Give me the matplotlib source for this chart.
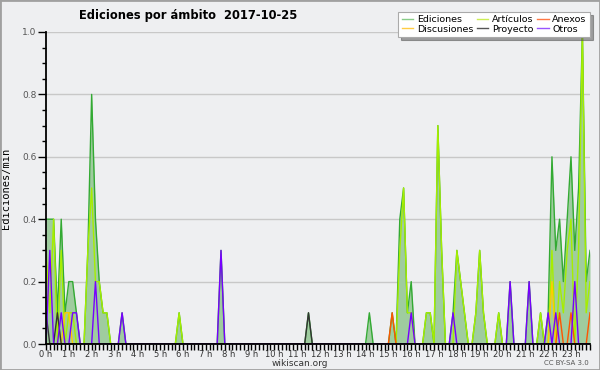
import numpy as np
import matplotlib
matplotlib.use('Agg')
import matplotlib.pyplot as plt
from matplotlib.lines import Line2D
from matplotlib.patches import Rectangle
from matplotlib.ticker import MultipleLocator

# 10-minute bins (0..143), edits per minute; only non-zero bins listed
n_bins = 144
ediciones = {0: 0.4, 1: 0.4, 2: 0.4, 3: 0.1, 4: 0.4, 5: 0.1, 6: 0.2, 7: 0.2, 8: 0.1,
             11: 0.3, 12: 0.8, 13: 0.4, 14: 0.2, 15: 0.1, 16: 0.1,
             20: 0.1, 35: 0.1, 46: 0.3, 69: 0.1, 85: 0.1, 91: 0.1,
             93: 0.4, 94: 0.5, 95: 0.1, 96: 0.2,
             100: 0.1, 101: 0.1, 103: 0.7, 104: 0.3,
             107: 0.1, 108: 0.3, 109: 0.2, 110: 0.1,
             113: 0.1, 114: 0.3, 115: 0.1,
             119: 0.1, 122: 0.2, 127: 0.2,
             130: 0.1, 132: 0.1, 133: 0.6, 134: 0.3, 135: 0.4, 136: 0.2, 137: 0.4,
             138: 0.6, 139: 0.3, 140: 0.5, 141: 1.0, 142: 0.2, 143: 0.3}
articulos = {0: 0.3, 1: 0.1, 2: 0.4, 4: 0.3, 6: 0.1, 7: 0.1,
             11: 0.3, 12: 0.5, 13: 0.2, 14: 0.2, 15: 0.1, 16: 0.1, 35: 0.1,
             93: 0.3, 94: 0.5, 95: 0.1, 96: 0.1, 100: 0.1, 101: 0.1, 103: 0.7, 104: 0.3,
             108: 0.3, 109: 0.2, 110: 0.1, 113: 0.1, 114: 0.3, 115: 0.1, 119: 0.1,
             130: 0.1, 133: 0.3, 135: 0.2, 136: 0.1, 137: 0.3, 138: 0.4,
             140: 0.3, 141: 1.0, 142: 0.1, 143: 0.2}
anexos = {91: 0.1, 135: 0.1, 138: 0.1, 143: 0.1}
discusiones = {5: 0.1, 6: 0.1, 133: 0.2}
proyecto = {0: 0.1, 3: 0.1, 69: 0.1}
otros = {1: 0.3, 4: 0.1, 7: 0.1, 8: 0.1, 13: 0.2, 20: 0.1, 46: 0.3, 96: 0.1,
         107: 0.1, 122: 0.2, 127: 0.2, 132: 0.1, 134: 0.1, 139: 0.2}
hour_labels = ['%d h' % h for h in range(24)]


def series(d):
    v = np.zeros(n_bins)
    for k, val in d.items():
        v[k] = val
    return v


bg = '#eeeff1'
x = np.arange(n_bins)

fig = plt.figure(figsize=(6, 3.7), dpi=100, facecolor=bg)
ax = fig.add_axes([46 / 600, 1 - 344 / 370, 544 / 600, 312 / 370])
ax.set_facecolor(bg)

ed = series(ediciones)
ax.fill_between(x, 0, ed, color='#9fcc9f', lw=0, zorder=1)
ax.plot(x, ed, color='#33aa33', lw=1.0, zorder=2)
ax.plot(x, series(articulos), color='#a6ee00', lw=1.0, zorder=3)
ax.plot(x, series(discusiones), color='#ffcc00', lw=1.0, zorder=3)
ax.plot(x, series(anexos), color='#ff5500', lw=1.0, zorder=4)
ax.plot(x, series(proyecto), color='#333333', lw=1.0, zorder=4)
ax.plot(x, series(otros), color='#7700ff', lw=1.0, zorder=4)

ax.set_xlim(0, n_bins - 1)
ax.set_ylim(0, 1.0)
for s in ['top', 'right']:
    ax.spines[s].set_visible(False)
for s in ['left', 'bottom']:
    ax.spines[s].set_linewidth(1.3)
    ax.spines[s].set_zorder(6)

ax.yaxis.set_major_locator(MultipleLocator(0.2))
ax.yaxis.set_minor_locator(MultipleLocator(0.05))
ax.yaxis.set_major_formatter(plt.FormatStrFormatter('%.1f'))
ax.set_xticks(np.arange(0, n_bins, 6))
ax.set_xticklabels(hour_labels)
ax.set_xticks(np.arange(0, n_bins), minor=True)
ax.tick_params(axis='y', which='major', length=6, width=1, labelsize=6.5,
               labelcolor='#555555', pad=1)
ax.tick_params(axis='y', which='minor', length=3, width=1)
ax.tick_params(axis='x', which='both', length=4, width=1, labelsize=6,
               labelcolor='#333333', pad=0)
ax.grid(axis='y', which='major', color='#c8c8c8', lw=1)
ax.set_axisbelow(True)

fig.text(300 / 600, 1 - 363 / 370, 'wikiscan.org', ha='center', va='center',
         fontsize=6.5, color='#333333')
ax.set_ylabel('Ediciones/min', fontsize=7.5, family='DejaVu Sans Mono', labelpad=8)
fig.text(188 / 600, 1 - 15 / 370, 'Ediciones por ámbito  2017-10-25', ha='center',
         va='center', fontsize=8.3, fontweight='bold')
fig.text(589 / 600, 1 - 363 / 370, 'CC BY-SA 3.0', ha='right', va='center',
         fontsize=5, color='#555555')

handles = [Line2D([], [], color='#88cc88', lw=1),
           Line2D([], [], color='#ffcc44', lw=1),
           Line2D([], [], color='#ccee55', lw=1),
           Line2D([], [], color='#555555', lw=1),
           Line2D([], [], color='#ff7744', lw=1),
           Line2D([], [], color='#9955ff', lw=1)]
labels = ['Ediciones', 'Discusiones', 'Artículos', 'Proyecto', 'Anexos', 'Otros']
leg = fig.legend(handles, labels, ncol=3, loc='upper right',
                 bbox_to_anchor=(590 / 600, 1 - 12 / 370), fontsize=6.8,
                 frameon=True, fancybox=False, shadow=True, framealpha=1,
                 borderpad=0.35, labelspacing=0.05, handlelength=1.2,
                 handletextpad=0.4, columnspacing=0.4, borderaxespad=0)
leg.get_frame().set_edgecolor('#aaaaaa')
leg.get_frame().set_linewidth(0.8)

fig.patches.append(Rectangle((0, 0), 1, 1, transform=fig.transFigure, fill=False,
                             edgecolor='#a0a0a0', lw=2))

fig.savefig('out.png', dpi=100, facecolor=bg)
